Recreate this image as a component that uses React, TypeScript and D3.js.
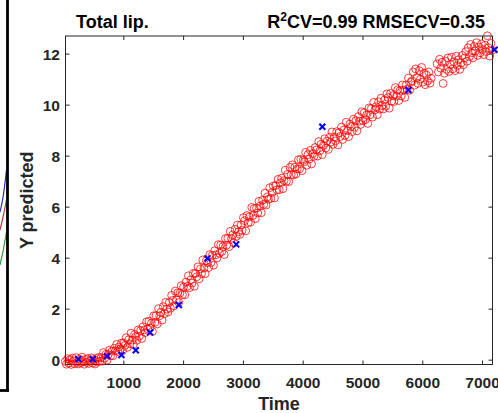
import React from 'react';
import * as d3 from 'd3';

const W = 498;
const H = 413;

const titleLeft = 'Total lip.';
const statR2 = '0.99';
const statRmse = '0.35';
const xLabel = 'Time';
const yLabel = 'Y predicted';

const xTicks = [1000, 2000, 3000, 4000, 5000, 6000, 7000];
const yTicks = [0, 2, 4, 6, 8, 10, 12];

// cross-validated predictions (red circles): [time, predicted]
const predicted: [number, number][] = [
  [20,-0.05],[40,-0.16],[60,0.06],[80,-0.12],[100,0.02],[120,-0.17],[140,0.08],[160,-0.03],[180,-0.14],[200,0.10],
  [220,-0.08],[240,-0.15],[260,0.04],[280,-0.10],[300,0.12],[320,-0.06],[340,-0.16],[360,0.03],[380,-0.09],[400,0.07],
  [420,-0.13],[440,-0.02],[460,0.09],[480,-0.11],[500,0.02],[520,-0.15],[540,0.06],[560,-0.07],[580,0.11],[600,-0.04],
  [620,0.10],[640,-0.04],[660,0.30],[680,0.08],[700,0.23],[720,0.00],[740,0.22],[760,0.39],[780,0.18],[800,0.35],
  [820,0.17],[840,0.47],[860,0.37],[880,0.62],[900,0.34],[920,0.52],[940,0.44],[960,0.67],[980,0.37],[1000,0.67],
  [1020,0.58],[1040,0.88],[1060,0.50],[1080,0.80],[1100,0.64],[1120,1.06],[1140,0.79],[1160,0.61],[1180,1.01],[1200,0.93],
  [1220,0.78],[1240,1.19],[1260,0.94],[1280,1.16],[1300,0.85],[1320,1.31],[1340,1.18],[1360,1.08],[1380,1.50],[1400,1.23],
  [1420,1.53],[1440,1.26],[1460,1.45],[1480,1.12],[1500,1.74],[1520,1.48],[1540,1.75],[1560,1.42],[1580,2.02],[1600,1.74],
  [1620,1.88],[1640,1.57],[1660,2.10],[1680,1.82],[1700,2.27],[1720,2.00],[1740,1.89],[1760,2.26],[1780,2.04],[1800,2.54],
  [1820,2.35],[1840,2.13],[1860,2.71],[1880,2.37],[1900,2.64],[1920,2.26],[1940,2.63],[1960,2.92],[1980,2.57],[2000,2.87],
  [2020,2.56],[2040,3.06],[2060,2.89],[2080,3.31],[2100,2.84],[2120,3.15],[2140,3.02],[2160,3.40],[2180,2.90],[2200,3.40],
  [2220,3.27],[2240,3.66],[2260,3.19],[2280,3.58],[2300,3.39],[2320,3.93],[2340,3.61],[2360,3.39],[2380,3.90],[2400,3.82],
  [2420,3.63],[2440,4.14],[2460,3.83],[2480,4.11],[2500,3.72],[2520,4.29],[2540,4.13],[2560,4.01],[2580,4.53],[2600,4.19],
  [2620,4.52],[2640,4.26],[2660,4.46],[2680,4.14],[2700,4.77],[2720,4.51],[2740,4.78],[2760,4.45],[2780,5.05],[2800,4.77],
  [2820,4.91],[2840,4.60],[2860,5.13],[2880,4.85],[2900,5.30],[2920,5.03],[2940,4.93],[2960,5.30],[2980,5.09],[3000,5.59],
  [3020,5.47],[3040,5.07],[3060,5.67],[3080,5.39],[3100,5.62],[3120,5.41],[3140,5.99],[3160,5.67],[3180,5.95],[3200,5.55],
  [3220,5.96],[3240,5.77],[3260,6.23],[3280,6.05],[3300,5.78],[3320,6.27],[3340,6.11],[3360,6.55],[3380,6.08],[3400,6.40],
  [3420,6.31],[3440,6.76],[3460,6.34],[3480,6.57],[3500,6.83],[3520,6.36],[3540,6.85],[3560,6.68],[3580,7.09],[3600,6.68],
  [3620,6.96],[3640,7.14],[3660,6.72],[3680,7.04],[3700,7.45],[3720,7.01],[3740,7.29],[3760,7.00],[3780,7.56],[3800,7.27],
  [3820,7.66],[3840,7.26],[3860,7.57],[3880,7.30],[3900,7.50],[3920,7.86],[3940,7.50],[3960,7.87],[3980,7.43],[4000,7.83],
  [4020,7.78],[4040,8.15],[4060,7.64],[4080,8.06],[4100,7.88],[4120,8.23],[4140,7.69],[4160,8.10],[4180,7.99],[4200,8.34],
  [4220,8.24],[4240,8.00],[4260,8.57],[4280,8.21],[4300,8.47],[4320,8.06],[4340,8.42],[4360,8.68],[4380,8.32],[4400,8.59],
  [4420,8.26],[4440,8.74],[4460,8.55],[4480,8.95],[4500,8.46],[4520,8.75],[4540,8.60],[4560,8.96],[4580,8.44],[4600,8.92],
  [4620,8.77],[4640,9.14],[4660,8.65],[4680,9.02],[4700,8.81],[4720,9.33],[4740,9.00],[4760,8.76],[4780,9.26],[4800,9.16],
  [4820,8.96],[4840,9.45],[4860,9.13],[4880,9.39],[4900,8.99],[4920,9.55],[4940,9.37],[4960,9.24],[4980,9.74],[5000,9.39],
  [5020,9.70],[5040,9.43],[5060,9.61],[5080,9.28],[5100,9.89],[5120,9.62],[5140,9.87],[5160,9.53],[5180,10.11],[5200,9.82],
  [5220,9.94],[5240,9.62],[5260,10.13],[5280,9.84],[5300,10.27],[5320,9.98],[5340,9.85],[5360,10.20],[5380,9.96],[5400,10.44],
  [5420,10.30],[5440,9.88],[5460,10.46],[5480,10.16],[5500,10.37],[5520,10.14],[5540,10.69],[5560,10.35],[5580,10.60],[5600,10.18],
  [5620,10.57],[5640,10.36],[5660,10.79],[5680,10.59],[5700,10.30],[5720,10.79],[5740,10.62],[5760,11.06],[5780,10.58],[5800,10.90],
  [5820,10.95],[5840,11.30],[5860,10.78],[5880,11.42],[5900,11.08],[5920,10.85],[5940,11.35],[5960,11.02],[5980,11.48],[6000,10.90],
  [6020,11.25],[6040,10.80],[6060,11.18],[6080,10.95],[6100,11.30],[6120,10.86],[6140,11.05],
  [6240,11.62],[6260,11.30],[6280,11.80],[6300,11.45],[6320,11.68],[6340,10.85],[6360,11.25],[6380,11.72],[6400,11.40],
  [6420,11.85],[6440,11.32],[6460,11.60],[6480,11.88],[6500,11.42],[6520,11.70],[6540,11.35],[6560,11.92],[6580,11.55],[6600,11.78],
  [6620,11.40],[6640,11.65],[6660,11.95],[6680,11.58],[6700,11.85],[6720,12.10],[6740,11.72],[6760,12.25],[6780,11.90],[6800,12.38],
  [6820,12.05],[6840,11.85],[6860,12.30],[6880,12.12],[6900,12.45],[6920,11.95],[6940,12.28],[6960,12.05],[6980,12.40],[7000,12.18],
  [7020,11.98],[7040,12.35],[7060,12.10],[7080,12.72],[7100,12.25],[7120,11.92],[7140,12.42],[7160,12.15],
];

// reference measurements (blue crosses): [time, value]
const measured: [number, number][] = [
  [240,0.04],[480,0.04],[720,0.16],[960,0.20],[1200,0.39],[1440,1.09],
  [1920,2.16],[2400,3.99],[2880,4.54],[4320,9.15],[5760,10.59],[7200,12.17],
];

// fragments of the neighbouring panel's curves, cut off at the left edge: [u, v] in that panel's units
const neighbourBlue: [number, number][] = [[0,0.47],[0.5,0.51],[1,0.575]];
const neighbourRed: [number, number][] = [[0,0.425],[0.5,0.46],[1,0.5]];
const neighbourGreen: [number, number][] = [[0,0.3375],[0.5,0.375],[1,0.42]];

const FONT = '"Liberation Sans", Arial, Helvetica, sans-serif';
const AXIS = '#262626';

export default function App() {
  const left = 65.5, right = 492.5, top = 36, bottom = 364.5;
  const x = d3.scaleLinear().domain([25, 7166]).range([left, right]);
  const y = d3.scaleLinear().domain([-0.17, 12.71]).range([bottom, top]);
  const tick = 4;

  // neighbouring panel scales (only its right edge is visible)
  const nx = d3.scaleLinear().domain([0, 1]).range([0, 6.5]);
  const ny = d3.scaleLinear().domain([0, 1]).range([400, 0]);
  const nline = d3.line<[number, number]>().x(d => nx(d[0])).y(d => ny(d[1])).curve(d3.curveMonotoneX);

  const cross = 'M-3,-3L3,3M-3,3L3,-3';

  return (
    <svg width={W} height={H} style={{ position: 'absolute', left: 0, top: 0, background: '#fff' }}
      fontFamily={FONT}>
      <rect x={0} y={0} width={W} height={H} fill="#fff" />
      {/* neighbouring panel remnants */}
      <path d={nline(neighbourBlue) || ''} fill="none" stroke="#2a2ab8" strokeWidth={1.2} />
      <path d={nline(neighbourRed) || ''} fill="none" stroke="#b83a3a" strokeWidth={1.2} />
      <path d={nline(neighbourGreen) || ''} fill="none" stroke="#2f9a3a" strokeWidth={1.2} />
      <line x1={7.5} x2={7.5} y1={0} y2={391.5} stroke="#000" strokeWidth={2.8} />
      <line x1={0} x2={8.9} y1={390.5} y2={390.5} stroke="#000" strokeWidth={2.8} />

      {/* axes box */}
      <rect x={left} y={top} width={right - left} height={bottom - top} fill="none" stroke={AXIS} strokeWidth={1} />
      {xTicks.map(t => (
        <g key={'xt' + t}>
          <line x1={x(t)} x2={x(t)} y1={bottom} y2={bottom - tick} stroke={AXIS} />
          <line x1={x(t)} x2={x(t)} y1={top} y2={top + tick} stroke={AXIS} />
          <text x={x(t)} y={388} textAnchor="middle" fontSize={15.5} fontWeight="bold" fill={AXIS}>{t}</text>
        </g>
      ))}
      {yTicks.map(v => (
        <g key={'yt' + v}>
          <line x1={left} x2={left + tick} y1={y(v)} y2={y(v)} stroke={AXIS} />
          <line x1={right} x2={right - tick} y1={y(v)} y2={y(v)} stroke={AXIS} />
          <text x={60} y={y(v)} dy="0.36em" textAnchor="end" fontSize={15.5} fontWeight="bold" fill={AXIS}>{v}</text>
        </g>
      ))}

      {/* data */}
      {predicted.map((d, i) => (
        <circle key={'p' + i} cx={x(d[0])} cy={y(d[1])} r={3.9} fill="none" stroke="#ff0000" strokeWidth={0.75} />
      ))}
      {measured.map((d, i) => (
        <path key={'m' + i} d={cross} transform={`translate(${x(d[0])},${y(d[1])})`} stroke="#0000ff" strokeWidth={2} fill="none" />
      ))}

      {/* titles */}
      <text x={76} y={28} fontSize={18} fontWeight="bold" fill="#000">{titleLeft}</text>
      <text x={485} y={28} textAnchor="end" fontSize={18} fontWeight="bold" fill="#000">
        <tspan>R</tspan>
        <tspan dy={-7} fontSize={12}>2</tspan>
        <tspan dy={7}>{`CV=${statR2} RMSECV=${statRmse}`}</tspan>
      </text>
      <text x={(left + right) / 2} y={410} textAnchor="middle" fontSize={18} fontWeight="bold" fill={AXIS}>{xLabel}</text>
      <text transform={`translate(33,${(top + bottom) / 2}) rotate(-90)`} textAnchor="middle" fontSize={18} fontWeight="bold" fill={AXIS}>{yLabel}</text>
    </svg>
  );
}
